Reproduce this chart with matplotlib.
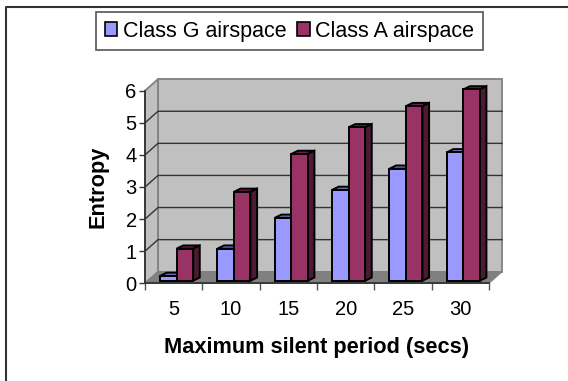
import matplotlib

matplotlib.use("Agg")
import matplotlib.pyplot as plt
from matplotlib.lines import Line2D
from matplotlib.patches import Patch, Polygon

categories = ["5", "10", "15", "20", "25", "30"]
class_g = [0.15, 1.0, 1.96, 2.83, 3.49, 4.0]
class_a = [1.0, 2.77, 3.95, 4.78, 5.44, 5.96]
y_ticks = [0, 1, 2, 3, 4, 5, 6]

WIDTH, HEIGHT = 568, 381
BLUE, BLUE_TOP = "#9999ff", "#7373bf"
RED, RED_TOP, RED_SIDE = "#993366", "#731a4d", "#4d1a33"
FONT = "Liberation Sans"


def main():
    plt.rcParams["font.family"] = FONT
    fig = plt.figure(figsize=(WIDTH / 100, HEIGHT / 100), dpi=100)
    ax = fig.add_axes(
        [145 / WIDTH, 1 - 283.3 / HEIGHT, 344 / WIDTH, 192.6 / HEIGHT],
        facecolor="none",
    )
    ax.set_xlim(0, len(categories))
    ax.set_ylim(0, 6)

    # depth of the fake 3d box, in data units
    dx, dy = 0.227, 0.36
    n = len(categories)

    def poly(points, face, edge="black", lw=1.4, z=2):
        ax.add_patch(
            Polygon(points, closed=True, facecolor=face, edgecolor=edge,
                    linewidth=lw, zorder=z, clip_on=False, joinstyle="miter")
        )

    # walls and floor
    poly([(dx, dy), (n + dx, dy), (n + dx, 6 + dy), (dx, 6 + dy)], "#c0c0c0", "#808080", 1.3, 1)
    poly([(0, 0), (dx, dy), (dx, 6 + dy), (0, 6)], "#c0c0c0", "#808080", 1.3, 1)
    poly([(0, 0), (n, 0), (n + dx, dy), (dx, dy)], "#808080", "#808080", 0.8, 1)

    for v in y_ticks[1:-1]:
        ax.plot([0, dx, n + dx], [v, v + dy, v + dy], color="#333333", lw=1.0,
                zorder=1.5, clip_on=False)

    # bars
    bar_w = 0.288
    bar_dx, bar_dy = 0.052, 0.08
    depth_x, depth_y = 0.115, 0.1

    def bar(left, value, face, top, side):
        x0, x1 = left, left + bar_w
        y0 = bar_dy
        y1 = bar_dy + value
        poly([(x0 + depth_x, y1 + depth_y), (x1 + depth_x, y1 + depth_y), (x1, y1), (x0, y1)], top, z=2)
        poly([(x1, y0), (x1 + depth_x, y0 + depth_y), (x1 + depth_x, y1 + depth_y), (x1, y1)], side, z=2)
        poly([(x0, y0), (x1, y0), (x1, y1), (x0, y1)], face, z=2)

    for i in range(n):
        center = i + 0.5 + bar_dx
        bar(center - bar_w, class_g[i], BLUE, BLUE_TOP, BLUE_TOP)
        bar(center, class_a[i], RED, RED_TOP, RED_SIDE)

    # axes
    for name in ["top", "right"]:
        ax.spines[name].set_visible(False)
    for name in ["left", "bottom"]:
        ax.spines[name].set_color("#333333")
        ax.spines[name].set_linewidth(1.3)
        ax.spines[name].set_zorder(3)

    ax.set_yticks(y_ticks)
    ax.tick_params(axis="y", length=4, width=1.0, color="#333333", labelsize=14.5, pad=2)
    ax.set_xticks(range(n + 1))
    ax.set_xticklabels([])
    ax.set_xticks([i + 0.5 for i in range(n)], minor=True)
    ax.set_xticklabels(categories, minor=True)
    ax.tick_params(axis="x", which="major", length=5, width=1.0, color="#555555")
    ax.tick_params(axis="x", which="minor", length=0, labelsize=14.5, pad=12)

    ax.set_xlabel("Maximum silent period (secs)", fontsize=15.7, fontweight="bold", labelpad=13)
    ax.set_ylabel("Entropy", fontsize=15.7, fontweight="bold", labelpad=12.5)

    handles = [
        Patch(facecolor=BLUE, edgecolor="black", linewidth=1.2, label="Class G airspace"),
        Patch(facecolor=RED, edgecolor="black", linewidth=1.2, label="Class A airspace"),
    ]
    leg = fig.legend(
        handles=handles,
        loc="center",
        bbox_to_anchor=(289.5 / WIDTH, 1 - 31 / HEIGHT),
        ncol=2,
        fontsize=15.5,
        frameon=True,
        fancybox=False,
        edgecolor="#555555",
        framealpha=1,
        handlelength=0.6,
        handleheight=0.6,
        handletextpad=0.25,
        columnspacing=0.5,
        borderpad=0.4,
        borderaxespad=0,
    )
    leg.get_frame().set_linewidth(1.2)

    # chart frame, only top and left show
    frame_x, frame_y = 6 / WIDTH, 1 - 6.5 / HEIGHT
    fig.add_artist(Line2D([frame_x, frame_x, 1], [0, frame_y, frame_y], color="#333333", lw=1.5))

    fig.savefig("out.png", dpi=100)


if __name__ == "__main__":
    main()
